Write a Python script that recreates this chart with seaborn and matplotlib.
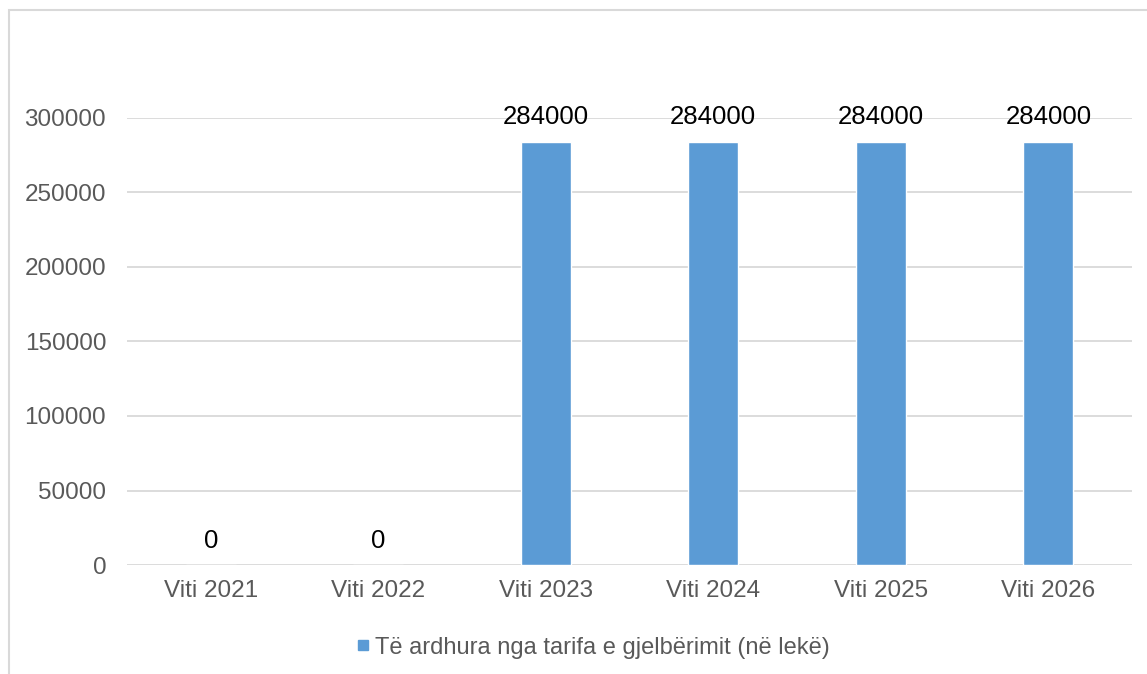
import pandas as pd
import matplotlib.pyplot as plt
import seaborn as sns
from matplotlib.patches import Rectangle
from matplotlib.lines import Line2D

# Data
years = ["Viti 2021", "Viti 2022", "Viti 2023", "Viti 2024", "Viti 2025", "Viti 2026"]
revenue = [0, 0, 284000, 284000, 284000, 284000]
series_name = "Të ardhura nga tarifa e gjelbërimit (në lekë)"

df = pd.DataFrame({"Viti": years, "Vlera": revenue})

sns.set_theme(style="white")
plt.rcParams['font.family'] = ['Liberation Sans', 'DejaVu Sans']

bar_color = "#5B9BD5"
tick_color = "#595959"
grid_color = "#D9D9D9"

fig = plt.figure(figsize=(11.47, 6.74), dpi=100)
ax = fig.add_axes([0.1107, 0.1617, 0.8763, 0.6633])

sns.barplot(data=df, x="Viti", y="Vlera", color=bar_color, width=0.3,
            saturation=1, ax=ax, zorder=3)

ax.set_ylim(0, 300000)
ax.set_xlim(-0.5, 5.5)
ax.set_yticks(range(0, 300001, 50000))
ax.yaxis.grid(True, color=grid_color, linewidth=1.3, zorder=0)
ax.set_axisbelow(True)
for s in ax.spines.values():
    s.set_visible(False)
ax.tick_params(axis="both", length=0, labelsize=17.5, colors=tick_color)
ax.tick_params(axis="y", pad=15)
ax.tick_params(axis="x", pad=11)
ax.set_xlabel("")
ax.set_ylabel("")

# value labels
for i, v in enumerate(revenue):
    ax.annotate(f"{v}", (i, v), xytext=(0, 17.5), textcoords="offset points",
                ha="center", va="center", fontsize=18.5, color="black",
                annotation_clip=False)

# legend
handle = Line2D([], [], marker="s", linestyle="none", markersize=7,
                color=bar_color)
fig.legend([handle], [series_name], loc="center", bbox_to_anchor=(0.515, 0.039),
           frameon=False, fontsize=17, handletextpad=0.0, handlelength=1.0,
           labelcolor=tick_color)

# outer chart border
fig.add_artist(Rectangle((9 / 1147, -0.05), 1.2, 1 - 10 / 674 + 0.05,
                         transform=fig.transFigure, fill=False,
                         edgecolor="#D9D9D9", linewidth=1.5))

fig.savefig("out.png", dpi=100)
